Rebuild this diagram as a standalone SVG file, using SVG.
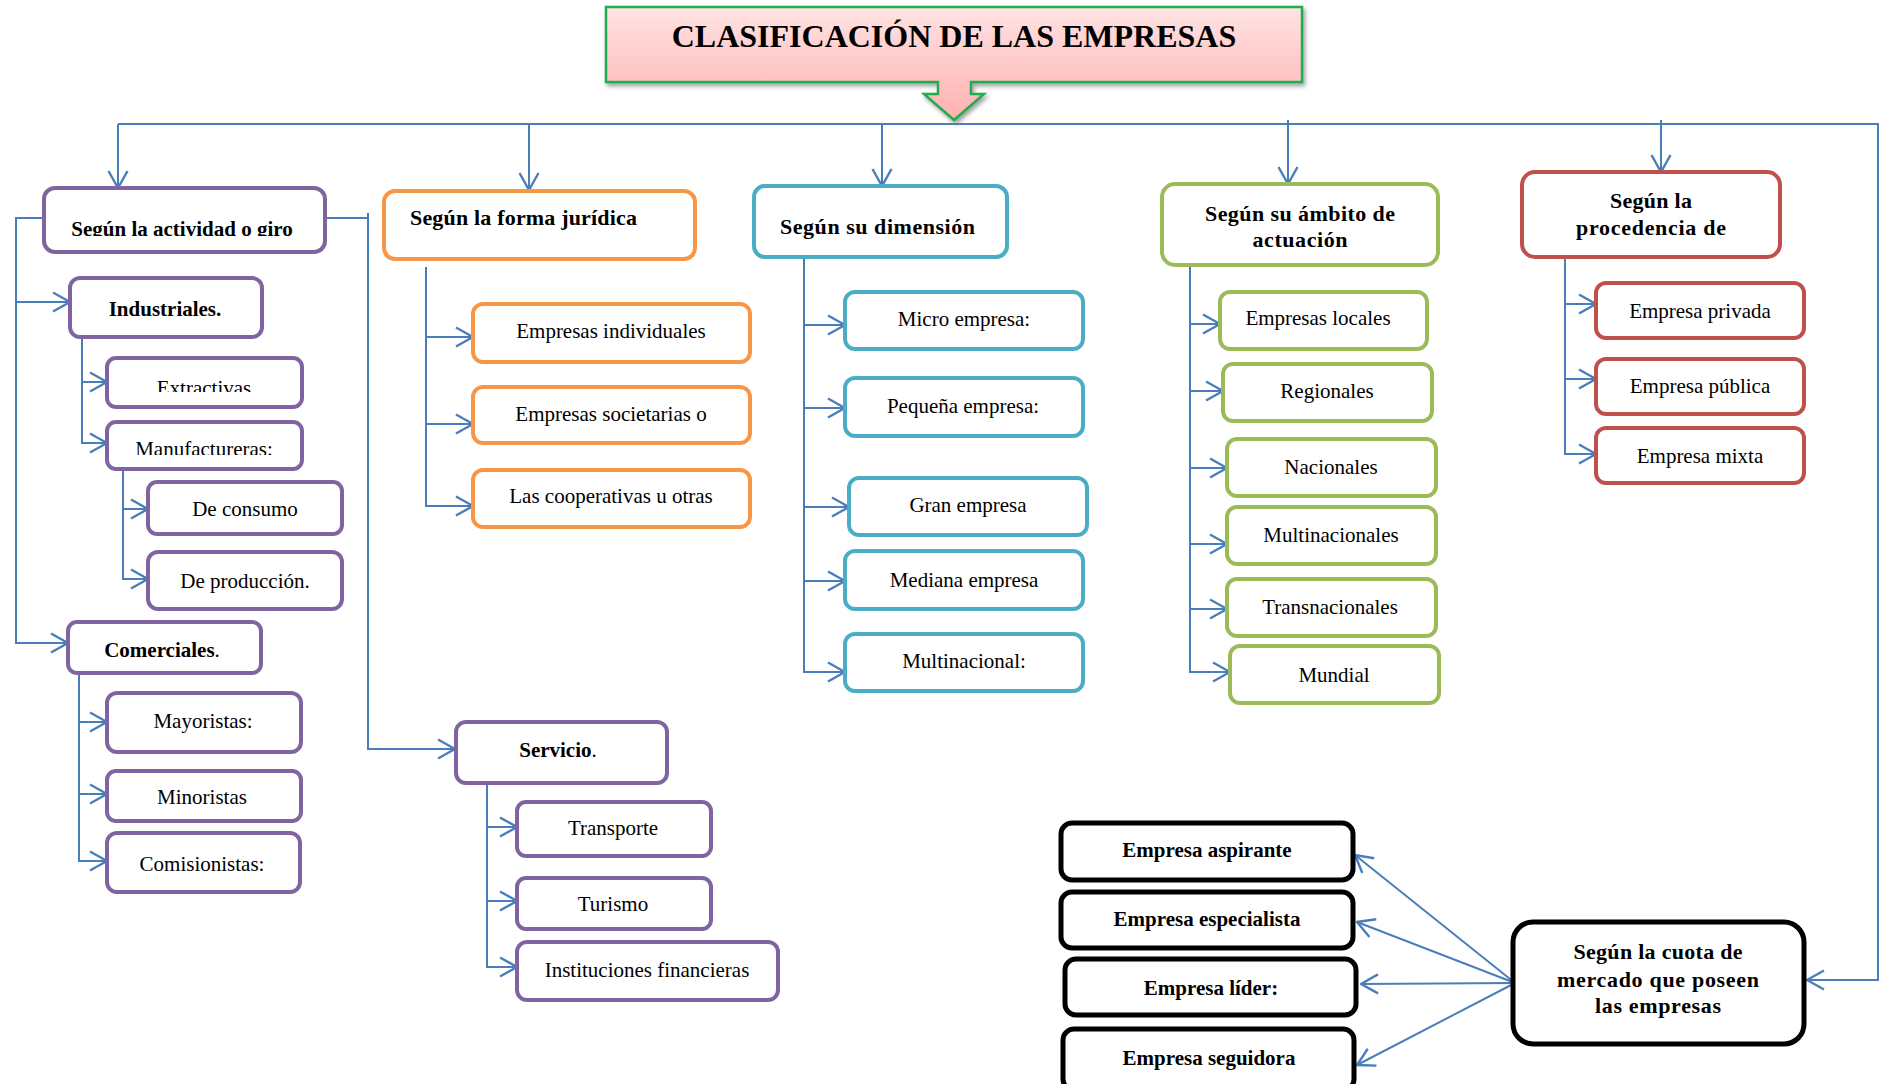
<svg xmlns="http://www.w3.org/2000/svg" width="1882" height="1084" viewBox="0 0 1882 1084">
<style>
.bx{fill:#fff;stroke-width:4}
.pu{stroke:#8064a2}.or{stroke:#f79646}.bl{stroke:#4bacc6}.gr{stroke:#9bbb59}.rd{stroke:#c0504d}.bk{stroke:#000;stroke-width:5}
.t{font-family:"Liberation Serif","Times New Roman",serif;font-size:21px;fill:#000;text-anchor:middle}
.b{font-weight:bold}
.h{font-size:22px}
.c{fill:none;stroke:#4a7ebb;stroke-width:2}
.n{font-weight:normal}
</style>
<defs>
<marker id="ar" viewBox="0 0 19 22" refX="18" refY="11" markerWidth="19" markerHeight="22" markerUnits="userSpaceOnUse" orient="auto">
<path d="M1,1.5 L18,11 L1,20.5" fill="none" stroke="#4a7ebb" stroke-width="2.4"/>
</marker>
<linearGradient id="tg" x1="0" y1="0" x2="0" y2="1">
<stop offset="0" stop-color="#ffe3e3"/>
<stop offset="1" stop-color="#ffb0b0"/>
</linearGradient>
<filter id="sh" x="-5%" y="-20%" width="110%" height="150%">
<feDropShadow dx="2" dy="3" stdDeviation="2" flood-color="#777" flood-opacity="0.7"/>
</filter>
<clipPath id="c1"><rect x="44" y="188" width="281" height="48"/></clipPath>
<clipPath id="c2"><rect x="107" y="358" width="195" height="34"/></clipPath>
<clipPath id="c3"><rect x="107" y="422" width="195" height="33"/></clipPath>
</defs>

<g id="connectors">
<path class="c" d="M118,124 H1878 V980 H1807" marker-end="url(#ar)"/>
<path class="c" d="M118,124 V188" marker-end="url(#ar)"/>
<path class="c" d="M529,124 V190" marker-end="url(#ar)"/>
<path class="c" d="M882,124 V186" marker-end="url(#ar)"/>
<path class="c" d="M1288,120 V184" marker-end="url(#ar)"/>
<path class="c" d="M1661,120 V172" marker-end="url(#ar)"/>

<path class="c" d="M44,218 H16 V643 H68" marker-end="url(#ar)"/>
<path class="c" d="M16,302 H70" marker-end="url(#ar)"/>
<path class="c" d="M82,337 V443 H107" marker-end="url(#ar)"/>
<path class="c" d="M82,382 H107" marker-end="url(#ar)"/>
<path class="c" d="M123,466 V579 H148" marker-end="url(#ar)"/>
<path class="c" d="M123,509 H148" marker-end="url(#ar)"/>
<path class="c" d="M79,673 V861 H107" marker-end="url(#ar)"/>
<path class="c" d="M79,722 H107" marker-end="url(#ar)"/>
<path class="c" d="M79,794 H107" marker-end="url(#ar)"/>
<path class="c" d="M302,218 H368"/>
<path class="c" d="M368,213 V749 H455" marker-end="url(#ar)"/>
<path class="c" d="M487,783 V967 H517" marker-end="url(#ar)"/>
<path class="c" d="M487,827 H517" marker-end="url(#ar)"/>
<path class="c" d="M487,901 H517" marker-end="url(#ar)"/>

<path class="c" d="M426,267 V506 H473" marker-end="url(#ar)"/>
<path class="c" d="M426,337 H473" marker-end="url(#ar)"/>
<path class="c" d="M426,424 H473" marker-end="url(#ar)"/>

<path class="c" d="M804,257 V672 H845" marker-end="url(#ar)"/>
<path class="c" d="M804,325 H845" marker-end="url(#ar)"/>
<path class="c" d="M804,408 H845" marker-end="url(#ar)"/>
<path class="c" d="M804,507 H849" marker-end="url(#ar)"/>
<path class="c" d="M804,581 H845" marker-end="url(#ar)"/>

<path class="c" d="M1190,265 V672 H1230" marker-end="url(#ar)"/>
<path class="c" d="M1190,324 H1220" marker-end="url(#ar)"/>
<path class="c" d="M1190,391 H1223" marker-end="url(#ar)"/>
<path class="c" d="M1190,468 H1227" marker-end="url(#ar)"/>
<path class="c" d="M1190,544 H1227" marker-end="url(#ar)"/>
<path class="c" d="M1190,609 H1227" marker-end="url(#ar)"/>

<path class="c" d="M1565,257 V454 H1596" marker-end="url(#ar)"/>
<path class="c" d="M1565,304 H1596" marker-end="url(#ar)"/>
<path class="c" d="M1565,379 H1596" marker-end="url(#ar)"/>

<path class="c" d="M1515,983 L1355,855" marker-end="url(#ar)"/>
<path class="c" d="M1515,983 L1357,922" marker-end="url(#ar)"/>
<path class="c" d="M1515,983 L1361,984" marker-end="url(#ar)"/>
<path class="c" d="M1515,983 L1357,1065" marker-end="url(#ar)"/>
</g>

<g id="title">
<path d="M606,7 H1302 V82 H971 V94 H984 L954,120 L924,94 H938 V82 H606 Z" fill="url(#tg)" stroke="#1fae4f" stroke-width="2.5" filter="url(#sh)"/>
<text class="t b" x="954" y="47" style="font-size:32px">CLASIFICACIÓN DE LAS EMPRESAS</text>
</g>

<g id="actividad">
<rect class="bx pu" x="44" y="188" width="281" height="64" rx="11"/>
<text class="t b" x="182" y="236" clip-path="url(#c1)">Según la actividad o giro</text>
</g>
<g id="industriales">
<rect class="bx pu" x="70" y="278" width="192" height="59" rx="10"/>
<text class="t b" x="165" y="316">Industriales.</text>
</g>
<g id="extractivas">
<rect class="bx pu" x="107" y="358" width="195" height="49" rx="9"/>
<text class="t" x="204" y="395" clip-path="url(#c2)">Extractivas</text>
</g>
<g id="manufactureras">
<rect class="bx pu" x="107" y="422" width="195" height="47" rx="9"/>
<text class="t" x="204" y="456" clip-path="url(#c3)">Manufactureras:</text>
</g>
<g id="consumo">
<rect class="bx pu" x="148" y="482" width="194" height="52" rx="9"/>
<text class="t" x="245" y="516">De consumo</text>
</g>
<g id="produccion">
<rect class="bx pu" x="148" y="552" width="194" height="57" rx="10"/>
<text class="t" x="245" y="588">De producción.</text>
</g>
<g id="comerciales">
<rect class="bx pu" x="68" y="622" width="193" height="51" rx="9"/>
<text class="t b" x="162" y="657">Comerciales<tspan class="n">.</tspan></text>
</g>
<g id="mayoristas">
<rect class="bx pu" x="107" y="693" width="194" height="59" rx="10"/>
<text class="t" x="203" y="728">Mayoristas:</text>
</g>
<g id="minoristas">
<rect class="bx pu" x="107" y="771" width="194" height="50" rx="9"/>
<text class="t" x="202" y="804">Minoristas</text>
</g>
<g id="comisionistas">
<rect class="bx pu" x="107" y="833" width="193" height="59" rx="10"/>
<text class="t" x="202" y="871">Comisionistas:</text>
</g>
<g id="servicio">
<rect class="bx pu" x="456" y="722" width="211" height="61" rx="10"/>
<text class="t b" x="558" y="757">Servicio<tspan class="n">.</tspan></text>
</g>
<g id="transporte">
<rect class="bx pu" x="517" y="802" width="194" height="54" rx="9"/>
<text class="t" x="613" y="835">Transporte</text>
</g>
<g id="turismo">
<rect class="bx pu" x="517" y="878" width="194" height="51" rx="9"/>
<text class="t" x="613" y="911">Turismo</text>
</g>
<g id="instituciones">
<rect class="bx pu" x="517" y="942" width="261" height="58" rx="10"/>
<text class="t" x="647" y="977">Instituciones financieras</text>
</g>

<g id="forma">
<rect class="bx or" x="384" y="191" width="311" height="68" rx="11"/>
<text class="t b h" x="410" y="225" style="text-anchor:start" textLength="227">Según la forma jurídica</text>
</g>
<g id="individuales">
<rect class="bx or" x="473" y="304" width="277" height="58" rx="10"/>
<text class="t" x="611" y="338">Empresas individuales</text>
</g>
<g id="societarias">
<rect class="bx or" x="473" y="387" width="277" height="56" rx="10"/>
<text class="t" x="611" y="421">Empresas societarias o</text>
</g>
<g id="cooperativas">
<rect class="bx or" x="473" y="470" width="277" height="57" rx="10"/>
<text class="t" x="611" y="503">Las cooperativas u otras</text>
</g>

<g id="dimension">
<rect class="bx bl" x="754" y="186" width="253" height="71" rx="11"/>
<text class="t b h" x="780" y="234" style="text-anchor:start" textLength="195">Según su dimensión</text>
</g>
<g id="micro">
<rect class="bx bl" x="845" y="292" width="238" height="57" rx="10"/>
<text class="t" x="964" y="326">Micro empresa:</text>
</g>
<g id="pequena">
<rect class="bx bl" x="845" y="378" width="238" height="58" rx="10"/>
<text class="t" x="963" y="413">Pequeña empresa:</text>
</g>
<g id="gran">
<rect class="bx bl" x="849" y="478" width="238" height="57" rx="10"/>
<text class="t" x="968" y="512">Gran empresa</text>
</g>
<g id="mediana">
<rect class="bx bl" x="845" y="551" width="238" height="58" rx="10"/>
<text class="t" x="964" y="587">Mediana empresa</text>
</g>
<g id="multinacional">
<rect class="bx bl" x="845" y="634" width="238" height="57" rx="10"/>
<text class="t" x="964" y="668">Multinacional:</text>
</g>

<g id="ambito">
<rect class="bx gr" x="1162" y="184" width="276" height="81" rx="13"/>
<text class="t b h" x="1300" y="221" textLength="190">Según su ámbito de</text>
<text class="t b h" x="1300" y="247" textLength="95">actuación</text>
</g>
<g id="locales">
<rect class="bx gr" x="1220" y="292" width="207" height="57" rx="10"/>
<text class="t" x="1318" y="325">Empresas locales</text>
</g>
<g id="regionales">
<rect class="bx gr" x="1223" y="364" width="209" height="57" rx="10"/>
<text class="t" x="1327" y="398">Regionales</text>
</g>
<g id="nacionales">
<rect class="bx gr" x="1227" y="439" width="209" height="57" rx="10"/>
<text class="t" x="1331" y="474">Nacionales</text>
</g>
<g id="multinacionales">
<rect class="bx gr" x="1227" y="507" width="209" height="57" rx="10"/>
<text class="t" x="1331" y="542">Multinacionales</text>
</g>
<g id="transnacionales">
<rect class="bx gr" x="1227" y="579" width="209" height="57" rx="10"/>
<text class="t" x="1330" y="614">Transnacionales</text>
</g>
<g id="mundial">
<rect class="bx gr" x="1230" y="646" width="209" height="57" rx="10"/>
<text class="t" x="1334" y="682">Mundial</text>
</g>

<g id="procedencia">
<rect class="bx rd" x="1522" y="172" width="258" height="85" rx="13"/>
<text class="t b h" x="1651" y="208" textLength="82">Según la</text>
<text class="t b h" x="1651" y="235" textLength="150">procedencia de</text>
</g>
<g id="privada">
<rect class="bx rd" x="1596" y="283" width="208" height="55" rx="10"/>
<text class="t" x="1700" y="318">Empresa privada</text>
</g>
<g id="publica">
<rect class="bx rd" x="1596" y="359" width="208" height="55" rx="10"/>
<text class="t" x="1700" y="393">Empresa pública</text>
</g>
<g id="mixta">
<rect class="bx rd" x="1596" y="428" width="208" height="55" rx="10"/>
<text class="t" x="1700" y="463">Empresa mixta</text>
</g>

<g id="aspirante">
<rect class="bx bk" x="1061" y="823" width="292" height="57" rx="11"/>
<text class="t b" x="1207" y="857">Empresa aspirante</text>
</g>
<g id="especialista">
<rect class="bx bk" x="1061" y="892" width="292" height="56" rx="11"/>
<text class="t b" x="1207" y="926">Empresa especialista</text>
</g>
<g id="lider">
<rect class="bx bk" x="1065" y="959" width="291" height="56" rx="11"/>
<text class="t b" x="1211" y="995">Empresa líder:</text>
</g>
<g id="seguidora">
<rect class="bx bk" x="1063" y="1029" width="291" height="61" rx="11"/>
<text class="t b" x="1209" y="1065">Empresa seguidora</text>
</g>
<g id="cuota">
<rect class="bx bk" x="1513" y="922" width="291" height="122" rx="20"/>
<text class="t b h" x="1658" y="959" textLength="169">Según la cuota de</text>
<text class="t b h" x="1658" y="987" textLength="202">mercado que poseen</text>
<text class="t b h" x="1658" y="1013" textLength="126">las empresas</text>
</g>
</svg>
